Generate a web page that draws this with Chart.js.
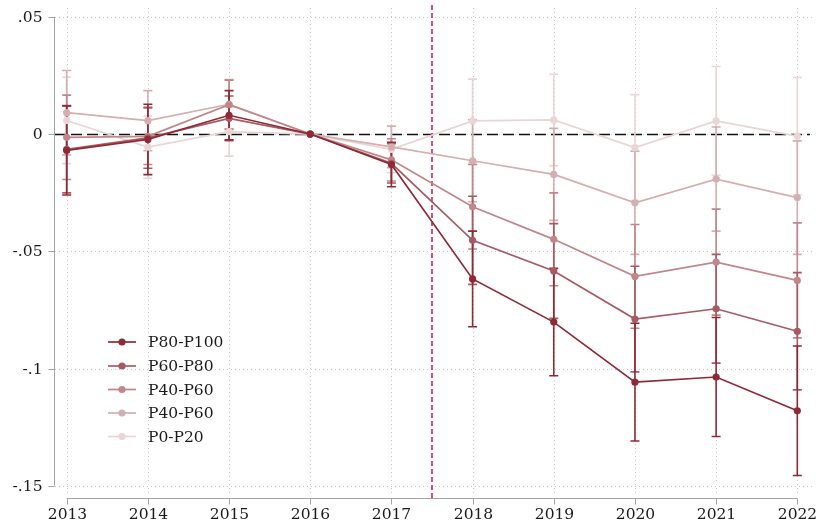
<!DOCTYPE html>
<html>
<head>
<meta charset="utf-8">
<script src="https://cdn.jsdelivr.net/npm/chart.js@4/dist/chart.umd.min.js"></script>
<style>
html,body{margin:0;padding:0;background:#fff;}
#wrap{width:818px;height:526px;position:relative;}
</style>
</head>
<body>
<div id="wrap"><canvas id="c"></canvas></div>
<script>
// ---- data ----
const years = [2013, 2014, 2015, 2016, 2017, 2018, 2019, 2020, 2021, 2022];
const yTicks = [-0.15, -0.1, -0.05, 0, 0.05];
const yTickLabels = ['-.15', '-.1', '-.05', '0', '.05'];
const xTickLabels = ['2013','2014','2015','2016','2017','2018','2019','2020','2021','2022'];
const seriesNames = ['P80-P100', 'P60-P80', 'P40-P60', 'P40-P60', 'P0-P20'];
const seriesColors = ['#8e2a36', '#a85a62', '#c0868a', '#d4aeb0', '#e9d5d5'];

const p80_100     = [-0.0070, -0.0023, 0.0080, 0, -0.0130, -0.0618, -0.0802, -0.1058, -0.1036, -0.1180];
const p80_100_err = [ 0.0190,  0.0150, 0.0105, 0,  0.0095,  0.0204,  0.0229,  0.0251,  0.0254,  0.0276];

const p60_80      = [-0.0065, -0.0016, 0.0067, 0, -0.0125, -0.0453, -0.0584, -0.0789, -0.0745, -0.0841];
const p60_80_err  = [ 0.0186,  0.0130, 0.0095, 0,  0.0084,  0.0188,  0.0202,  0.0225,  0.0232,  0.0250];

const p40_60      = [-0.0014, -0.0010, 0.0125, 0, -0.0110, -0.0310, -0.0449, -0.0607, -0.0546, -0.0624];
const p40_60_err  = [ 0.0180,  0.0120, 0.0105, 0,  0.0090,  0.0180,  0.0198,  0.0221,  0.0226,  0.0245];

const p40_60b     = [ 0.0091,  0.0057, 0.0127, 0, -0.0055, -0.0114, -0.0172, -0.0293, -0.0192, -0.0271];
const p40_60b_err = [ 0.0180,  0.0128, 0.0105, 0,  0.0088,  0.0175,  0.0196,  0.0220,  0.0222,  0.0242];

const p0_20       = [ 0.0058, -0.0056, 0.0010, 0, -0.0065,  0.0056,  0.0060, -0.0058,  0.0056, -0.0009];
const p0_20_err   = [ 0.0184,  0.0133, 0.0104, 0,  0.0100,  0.0178,  0.0195,  0.0226,  0.0232,  0.0250];

const treatmentLine = 2017.5;

const seriesValues = [p80_100, p60_80, p40_60, p40_60b, p0_20];
const seriesErrors = [p80_100_err, p60_80_err, p40_60_err, p40_60b_err, p0_20_err];

// ---- chart ----
const FONT = '15.5px "DejaVu Serif"';
const TEXT = '#1a1a1a';
const AXIS = '#a3a3a3';
const GRID = '#c8c8c8';

const datasets = seriesNames.map((name, i) => ({
  label: name,
  data: years.map((x, j) => ({x: x, y: seriesValues[i][j]})),
  borderColor: seriesColors[i],
  backgroundColor: seriesColors[i],
  borderWidth: 1.7,
  pointRadius: 3.6,
  pointHoverRadius: 3.6,
  pointBorderWidth: 0,
  tension: 0,
  errs: seriesErrors[i]
}));

const framePlugin = {
  id: 'frame',
  beforeDatasetsDraw(chart) {
    const ctx = chart.ctx;
    const xs = chart.scales.x, ys = chart.scales.y;
    const ca = chart.chartArea;
    ctx.save();
    // grid
    ctx.strokeStyle = GRID;
    ctx.lineWidth = 1;
    ctx.setLineDash([1, 3]);
    yTicks.forEach(v => {
      const y = Math.round(ys.getPixelForValue(v)) + 0.5;
      ctx.beginPath(); ctx.moveTo(ca.left, y); ctx.lineTo(ca.right, y); ctx.stroke();
    });
    years.forEach(v => {
      const x = Math.round(xs.getPixelForValue(v)) + 0.5;
      ctx.beginPath(); ctx.moveTo(x, ca.top + 2); ctx.lineTo(x, ca.bottom - 2); ctx.stroke();
    });
    ctx.setLineDash([]);
    // y axis
    ctx.strokeStyle = AXIS;
    const ax = ca.left - 0.5;
    ctx.beginPath();
    ctx.moveTo(ax, ys.getPixelForValue(yTicks[yTicks.length - 1]));
    ctx.lineTo(ax, ys.getPixelForValue(yTicks[0]));
    ctx.stroke();
    ctx.font = FONT;
    ctx.fillStyle = TEXT;
    ctx.textAlign = 'right';
    ctx.textBaseline = 'middle';
    yTicks.forEach((v, i) => {
      const y = Math.round(ys.getPixelForValue(v)) + 0.5;
      ctx.beginPath(); ctx.moveTo(ax - 6, y); ctx.lineTo(ax, y); ctx.stroke();
      ctx.fillText(yTickLabels[i], ax - 12, y);
    });
    // x axis
    const ay = ca.bottom + 0.5;
    ctx.beginPath();
    ctx.moveTo(xs.getPixelForValue(years[0]), ay);
    ctx.lineTo(xs.getPixelForValue(years[years.length - 1]), ay);
    ctx.stroke();
    ctx.textAlign = 'center';
    years.forEach((v, i) => {
      const x = Math.round(xs.getPixelForValue(v)) + 0.5;
      ctx.beginPath(); ctx.moveTo(x, ay); ctx.lineTo(x, ay + 6); ctx.stroke();
      ctx.fillText(xTickLabels[i], x, ay + 16);
    });
    // zero reference line
    const y0 = Math.round(ys.getPixelForValue(0)) + 0.5;
    ctx.strokeStyle = '#111';
    ctx.lineWidth = 1.3;
    ctx.setLineDash([11, 5]);
    ctx.beginPath(); ctx.moveTo(ca.left, y0); ctx.lineTo(ca.right - 2, y0); ctx.stroke();
    // treatment line
    const xr = xs.getPixelForValue(treatmentLine);
    ctx.strokeStyle = '#d81e52';
    ctx.lineWidth = 1.6;
    ctx.setLineDash([5, 3]);
    ctx.beginPath(); ctx.moveTo(xr, ca.top - 1); ctx.lineTo(xr, ca.bottom); ctx.stroke();
    ctx.setLineDash([]);
    // error bars (last dataset first so the first is on top)
    for (let i = chart.data.datasets.length - 1; i >= 0; i--) {
      const ds = chart.data.datasets[i];
      ctx.strokeStyle = ds.borderColor;
      ctx.lineWidth = 1.6;
      ds.data.forEach((p, j) => {
        const e = ds.errs[j];
        if (!e) return;
        const x = xs.getPixelForValue(p.x);
        const yl = ys.getPixelForValue(p.y - e);
        const yh = ys.getPixelForValue(p.y + e);
        ctx.beginPath();
        ctx.moveTo(x, yl); ctx.lineTo(x, yh);
        ctx.moveTo(x - 4.5, yl); ctx.lineTo(x + 4.5, yl);
        ctx.moveTo(x - 4.5, yh); ctx.lineTo(x + 4.5, yh);
        ctx.stroke();
      });
    }
    ctx.restore();
  },
  afterDraw(chart) {
    const ctx = chart.ctx;
    ctx.save();
    const rows = [342, 366, 389.5, 413, 436.5];
    ctx.font = FONT;
    ctx.textAlign = 'left';
    ctx.textBaseline = 'middle';
    seriesNames.forEach((name, i) => {
      const y = rows[i];
      ctx.strokeStyle = seriesColors[i];
      ctx.fillStyle = seriesColors[i];
      ctx.lineWidth = 1.7;
      ctx.beginPath(); ctx.moveTo(108, y); ctx.lineTo(136, y); ctx.stroke();
      ctx.beginPath(); ctx.arc(122, y, 3.6, 0, Math.PI * 2); ctx.fill();
      ctx.fillStyle = TEXT;
      ctx.fillText(name, 148, y + 1);
    });
    ctx.restore();
  }
};

new Chart(document.getElementById('c'), {
  type: 'line',
  data: { datasets: datasets },
  options: {
    responsive: true,
    maintainAspectRatio: false,
    animation: false,
    layout: { padding: { left: 55, top: 6, right: 6, bottom: 28 } },
    plugins: { legend: { display: false }, tooltip: { enabled: false } },
    scales: {
      x: { type: 'linear', min: 2012.856, max: 2022.181, display: false },
      y: { type: 'linear', min: -0.1552, max: 0.0546, display: false }
    }
  },
  plugins: [framePlugin]
});
</script>
</body>
</html>
